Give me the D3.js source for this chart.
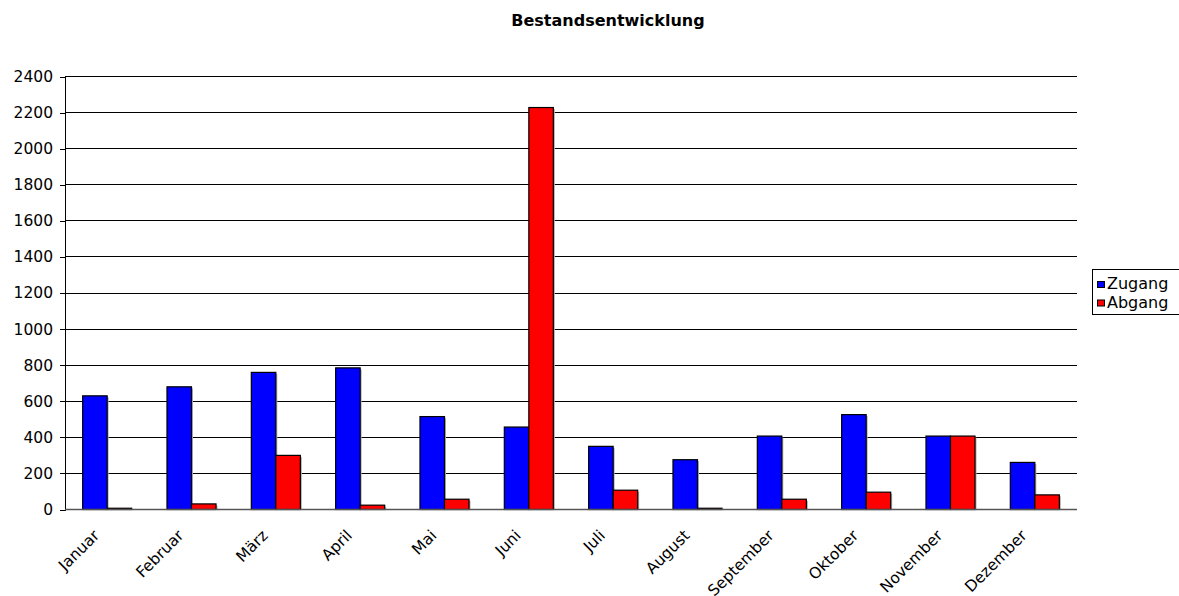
<!DOCTYPE html>
<html>
<head>
<meta charset="utf-8">
<script src="https://cdn.jsdelivr.net/npm/d3@7"></script>
<style>
  body { margin: 0; background: #fff; }
  svg text { font-family: "DejaVu Sans", Verdana, sans-serif; fill: #000; }
</style>
</head>
<body>
<script>
// monthly values
var months = ['Januar', 'Februar', 'März', 'April', 'Mai', 'Juni',
  'Juli', 'August', 'September', 'Oktober', 'November', 'Dezember'];
var zugang = [630, 680, 760, 785, 515, 457, 350, 276, 407, 526, 407, 261];
var abgang = [7, 31, 300, 24, 57, 2228, 107, 7, 57, 96, 407, 81];
var seriesNames = ['Zugang', 'Abgang'];
var seriesColors = ['#0000ff', '#ff0000'];
var yTicks = [0, 200, 400, 600, 800, 1000, 1200, 1400, 1600, 1800, 2000, 2200, 2400];

var width = 1179, height = 596;
var plotLeft = 65, plotRight = 1077, plotTop = 76.5, plotBottom = 509.5;

var svg = d3.select('body').append('svg')
    .attr('width', width)
    .attr('height', height);

var x = d3.scaleBand()
    .domain(months)
    .range([plotLeft, plotRight]);

var inner = d3.scaleBand()
    .domain(seriesNames)
    .range([0, x.bandwidth()])
    .paddingOuter(0.72)
    .paddingInner(0);

var y = d3.scaleLinear()
    .domain([0, 2400])
    .range([plotBottom, plotTop]);

// title
svg.append('text')
  .attr('x', 608)
  .attr('y', 26)
  .attr('text-anchor', 'middle')
  .style('font-size', '16px')
  .style('font-weight', 'bold')
  .text('Bestandsentwicklung');

// grid lines
svg.append('g')
  .selectAll('line')
  .data(yTicks.filter(function (d) { return d > 0; }))
  .enter().append('line')
    .attr('x1', plotLeft)
    .attr('x2', plotRight)
    .attr('y1', function (d) { return y(d); })
    .attr('y2', function (d) { return y(d); })
    .style('stroke', '#000')
    .style('stroke-width', 1)
    .attr('shape-rendering', 'crispEdges');

// y axis
var yAxis = d3.axisLeft(y).tickValues(yTicks).tickFormat(d3.format('d')).tickSize(5).tickPadding(7);
var gy = svg.append('g')
  .attr('transform', 'translate(' + plotLeft + ',0)')
  .call(yAxis);
gy.selectAll('text').style('font-size', '15.5px');
gy.selectAll('line, path').style('stroke', '#000').attr('shape-rendering', 'crispEdges');

// bars
var rows = months.map(function (m, i) {
  return { month: m, values: [zugang[i], abgang[i]] };
});

var groups = svg.append('g')
  .selectAll('g')
  .data(rows)
  .enter().append('g')
    .attr('transform', function (d) { return 'translate(' + x(d.month) + ',0)'; });

groups.selectAll('rect.shadow')
  .data(function (d) { return d.values.map(function (v, k) { return { k: k, v: v }; }); })
  .enter().append('rect')
    .attr('class', 'shadow')
    .attr('x', function (d) { return inner(seriesNames[d.k]) + 1.5; })
    .attr('y', function (d) { return y(d.v) + 1.5; })
    .attr('width', inner.bandwidth())
    .attr('height', function (d) { return plotBottom - y(d.v) - 1.5; })
    .style('fill', '#b0b0b0');

groups.selectAll('rect.bar')
  .data(function (d) { return d.values.map(function (v, k) { return { k: k, v: v }; }); })
  .enter().append('rect')
    .attr('class', 'bar')
    .attr('x', function (d) { return inner(seriesNames[d.k]); })
    .attr('y', function (d) { return y(d.v); })
    .attr('width', inner.bandwidth())
    .attr('height', function (d) { return plotBottom - y(d.v); })
    .style('fill', function (d) { return seriesColors[d.k]; })
    .style('stroke', '#000')
    .style('stroke-width', 1.2);

// x axis baseline
svg.append('line')
  .attr('x1', plotLeft)
  .attr('x2', plotRight)
  .attr('y1', plotBottom)
  .attr('y2', plotBottom)
  .style('stroke', '#555')
  .style('stroke-width', 1.5);

// x labels, rotated
svg.append('g')
  .selectAll('text')
  .data(months)
  .enter().append('text')
    .attr('transform', function (d) {
      return 'translate(' + (x(d) + x.bandwidth() / 2 - 7) + ',' + (plotBottom + 27) + ') rotate(-45)';
    })
    .attr('text-anchor', 'end')
    .style('font-size', '15.5px')
    .text(function (d) { return d; });

// legend
var legend = svg.append('g').attr('transform', 'translate(1092,269)');
legend.append('rect')
  .attr('x', 0.5).attr('y', 0.5)
  .attr('width', 100).attr('height', 45)
  .style('fill', '#fff')
  .style('stroke', '#000');

seriesNames.forEach(function (name, k) {
  legend.append('rect')
    .attr('x', 5.5).attr('y', 12.5 + k * 18.5)
    .attr('width', 7).attr('height', 6)
    .style('fill', seriesColors[k])
    .style('stroke', '#000');
  legend.append('text')
    .attr('x', 15).attr('y', 20 + k * 19)
    .style('font-size', '16px')
    .text(name);
});
</script>
</body>
</html>
